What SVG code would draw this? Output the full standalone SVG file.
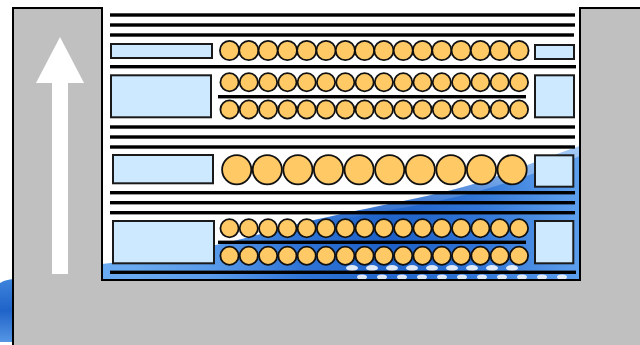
<svg xmlns="http://www.w3.org/2000/svg" width="640" height="345" viewBox="0 0 640 345">
  <style>
    .bar { fill: #000; }
    .pad { fill: #CCE9FF; stroke: #1a1a1a; stroke-width: 2; }
    .ball { fill: #FFC966; stroke: #111; stroke-width: 1.8; }
    .shell { fill: #C0C0C0; stroke: #000; stroke-width: 2; }
    .fleck { fill: #fff; opacity: 0.85; }
  </style>
  <defs>
    <radialGradient id="waveFill" cx="390" cy="240" r="260" gradientUnits="userSpaceOnUse">
      <stop offset="0" stop-color="#1d5fc6"/>
      <stop offset="0.35" stop-color="#2f74d6"/>
      <stop offset="0.7" stop-color="#5a9ceb"/>
      <stop offset="1" stop-color="#6aaaf0"/>
    </radialGradient>
    <linearGradient id="waveEdge" x1="0" y1="0" x2="0" y2="1">
      <stop offset="0" stop-color="#ffffff" stop-opacity="0.75"/>
      <stop offset="1" stop-color="#ffffff" stop-opacity="0"/>
    </linearGradient>
    <linearGradient id="cornerFill" x1="0" y1="0" x2="0" y2="1">
      <stop offset="0" stop-color="#3d84dc"/>
      <stop offset="0.5" stop-color="#1f63c8"/>
      <stop offset="1" stop-color="#5596e4"/>
    </linearGradient>
  </defs>

  <rect width="640" height="345" fill="#fff"/>

  <!-- blue backdrop wave -->
  <g id="backdrop">
    <path d="M102,264 C160,258 220,246 290,226 C360,208 430,198 480,182 C510,172 540,160 580,146 L580,282 L102,282 Z" fill="url(#waveFill)"/>
    <path d="M300,224 C360,208 430,198 480,182 C510,172 540,160 580,146 L580,156 C540,172 500,186 460,196 C400,210 350,216 300,228 Z" fill="url(#waveEdge)" opacity="0.6"/>
    <g class="fleck">
      <ellipse cx="352" cy="268" rx="6" ry="3"/>
      <ellipse cx="372" cy="268" rx="6" ry="3"/>
      <ellipse cx="392" cy="268" rx="6" ry="3"/>
      <ellipse cx="412" cy="268" rx="6" ry="3"/>
      <ellipse cx="432" cy="268" rx="6" ry="3"/>
      <ellipse cx="452" cy="268" rx="6" ry="3"/>
      <ellipse cx="472" cy="268" rx="6" ry="3"/>
      <ellipse cx="492" cy="268" rx="6" ry="3"/>
      <ellipse cx="512" cy="268" rx="6" ry="3"/>
      <ellipse cx="362" cy="277" rx="5" ry="2.5"/>
      <ellipse cx="382" cy="277" rx="5" ry="2.5"/>
      <ellipse cx="402" cy="277" rx="5" ry="2.5"/>
      <ellipse cx="422" cy="277" rx="5" ry="2.5"/>
      <ellipse cx="442" cy="277" rx="5" ry="2.5"/>
      <ellipse cx="462" cy="277" rx="5" ry="2.5"/>
      <ellipse cx="482" cy="277" rx="5" ry="2.5"/>
      <ellipse cx="502" cy="277" rx="5" ry="2.5"/>
      <ellipse cx="522" cy="277" rx="5" ry="2.5"/>
      <ellipse cx="542" cy="277" rx="5" ry="2.5"/>
      <ellipse cx="562" cy="277" rx="5" ry="2.5"/>
    </g>
    <path d="M0,283 C5,280 10,279 15,279 L15,342 L0,342 Z" fill="url(#cornerFill)"/>
  </g>

  <!-- grey housing around the stack -->
  <path id="housing" class="shell" d="M13,347 L13,8 L102,8 L102,280 L580,280 L580,8 L643,8 L643,347 Z"/>

  <!-- direction arrow -->
  <g id="arrow">
    <polygon points="60,37 84,83 36,83" fill="#fff"/>
    <rect x="52" y="82" width="16" height="192" fill="#fff"/>
  </g>

  <!-- separator bars -->
  <g id="bars">
    <rect class="bar" x="110" y="13.3" width="465" height="3.4"/>
    <rect class="bar" x="110" y="23.3" width="465" height="3.4"/>
    <rect class="bar" x="110" y="33.3" width="464" height="3.4"/>
    <rect class="bar" x="110" y="65" width="466" height="3.4"/>
    <rect class="bar" x="218" y="95" width="308" height="3.4"/>
    <rect class="bar" x="110" y="125.3" width="465" height="3.4"/>
    <rect class="bar" x="110" y="135.3" width="465" height="3.4"/>
    <rect class="bar" x="110" y="145.3" width="465" height="3.4"/>
    <rect class="bar" x="110" y="191" width="465" height="3.4"/>
    <rect class="bar" x="110" y="201" width="465" height="3.4"/>
    <rect class="bar" x="110" y="211" width="465" height="3.4"/>
    <rect class="bar" x="218" y="240.6" width="308" height="3.4"/>
    <rect class="bar" x="110" y="270.6" width="466" height="3.4"/>
  </g>

  <!-- tier 1: single row -->
  <g id="tier1">
    <rect class="pad" x="111" y="44" width="101" height="14"/>
    <rect class="pad" x="535" y="45" width="39" height="14"/>
    <g class="ball">
      <circle cx="229.5" cy="50.5" r="9.6"/><circle cx="248.8" cy="50.5" r="9.6"/>
      <circle cx="268.1" cy="50.5" r="9.6"/><circle cx="287.4" cy="50.5" r="9.6"/>
      <circle cx="306.7" cy="50.5" r="9.6"/><circle cx="326" cy="50.5" r="9.6"/>
      <circle cx="345.3" cy="50.5" r="9.6"/><circle cx="364.6" cy="50.5" r="9.6"/>
      <circle cx="383.9" cy="50.5" r="9.6"/><circle cx="403.2" cy="50.5" r="9.6"/>
      <circle cx="422.5" cy="50.5" r="9.6"/><circle cx="441.8" cy="50.5" r="9.6"/>
      <circle cx="461.1" cy="50.5" r="9.6"/><circle cx="480.4" cy="50.5" r="9.6"/>
      <circle cx="499.7" cy="50.5" r="9.6"/><circle cx="519" cy="50.5" r="9.6"/>
    </g>
  </g>

  <!-- tier 2: double row -->
  <g id="tier2">
    <rect class="pad" x="111" y="75.3" width="100" height="42"/>
    <rect class="pad" x="535" y="75.3" width="39" height="42"/>
    <g class="ball">
      <circle cx="229.5" cy="82.2" r="9.1"/><circle cx="248.8" cy="82.2" r="9.1"/>
      <circle cx="268.1" cy="82.2" r="9.1"/><circle cx="287.4" cy="82.2" r="9.1"/>
      <circle cx="306.7" cy="82.2" r="9.1"/><circle cx="326" cy="82.2" r="9.1"/>
      <circle cx="345.3" cy="82.2" r="9.1"/><circle cx="364.6" cy="82.2" r="9.1"/>
      <circle cx="383.9" cy="82.2" r="9.1"/><circle cx="403.2" cy="82.2" r="9.1"/>
      <circle cx="422.5" cy="82.2" r="9.1"/><circle cx="441.8" cy="82.2" r="9.1"/>
      <circle cx="461.1" cy="82.2" r="9.1"/><circle cx="480.4" cy="82.2" r="9.1"/>
      <circle cx="499.7" cy="82.2" r="9.1"/><circle cx="519" cy="82.2" r="9.1"/>
      <circle cx="229.5" cy="109.5" r="9.1"/><circle cx="248.8" cy="109.5" r="9.1"/>
      <circle cx="268.1" cy="109.5" r="9.1"/><circle cx="287.4" cy="109.5" r="9.1"/>
      <circle cx="306.7" cy="109.5" r="9.1"/><circle cx="326" cy="109.5" r="9.1"/>
      <circle cx="345.3" cy="109.5" r="9.1"/><circle cx="364.6" cy="109.5" r="9.1"/>
      <circle cx="383.9" cy="109.5" r="9.1"/><circle cx="403.2" cy="109.5" r="9.1"/>
      <circle cx="422.5" cy="109.5" r="9.1"/><circle cx="441.8" cy="109.5" r="9.1"/>
      <circle cx="461.1" cy="109.5" r="9.1"/><circle cx="480.4" cy="109.5" r="9.1"/>
      <circle cx="499.7" cy="109.5" r="9.1"/><circle cx="519" cy="109.5" r="9.1"/>
    </g>
  </g>

  <!-- tier 3: large single row -->
  <g id="tier3">
    <rect class="pad" x="113" y="155" width="100" height="28.3"/>
    <rect class="pad" x="535" y="155.3" width="38.3" height="31.4"/>
    <g class="ball">
      <circle cx="236.7" cy="169.7" r="14.6"/><circle cx="267.3" cy="169.7" r="14.6"/>
      <circle cx="297.9" cy="169.7" r="14.6"/><circle cx="328.5" cy="169.7" r="14.6"/>
      <circle cx="359.1" cy="169.7" r="14.6"/><circle cx="389.7" cy="169.7" r="14.6"/>
      <circle cx="420.3" cy="169.7" r="14.6"/><circle cx="450.9" cy="169.7" r="14.6"/>
      <circle cx="481.5" cy="169.7" r="14.6"/><circle cx="512.1" cy="169.7" r="14.6"/>
    </g>
  </g>

  <!-- tier 4: double row -->
  <g id="tier4">
    <rect class="pad" x="113" y="221" width="101" height="42.3"/>
    <rect class="pad" x="535" y="221" width="38.3" height="42.3"/>
    <g class="ball">
      <circle cx="229.5" cy="228.3" r="9.1"/><circle cx="248.8" cy="228.3" r="9.1"/>
      <circle cx="268.1" cy="228.3" r="9.1"/><circle cx="287.4" cy="228.3" r="9.1"/>
      <circle cx="306.7" cy="228.3" r="9.1"/><circle cx="326" cy="228.3" r="9.1"/>
      <circle cx="345.3" cy="228.3" r="9.1"/><circle cx="364.6" cy="228.3" r="9.1"/>
      <circle cx="383.9" cy="228.3" r="9.1"/><circle cx="403.2" cy="228.3" r="9.1"/>
      <circle cx="422.5" cy="228.3" r="9.1"/><circle cx="441.8" cy="228.3" r="9.1"/>
      <circle cx="461.1" cy="228.3" r="9.1"/><circle cx="480.4" cy="228.3" r="9.1"/>
      <circle cx="499.7" cy="228.3" r="9.1"/><circle cx="519" cy="228.3" r="9.1"/>
      <circle cx="229.5" cy="255.8" r="9.1"/><circle cx="248.8" cy="255.8" r="9.1"/>
      <circle cx="268.1" cy="255.8" r="9.1"/><circle cx="287.4" cy="255.8" r="9.1"/>
      <circle cx="306.7" cy="255.8" r="9.1"/><circle cx="326" cy="255.8" r="9.1"/>
      <circle cx="345.3" cy="255.8" r="9.1"/><circle cx="364.6" cy="255.8" r="9.1"/>
      <circle cx="383.9" cy="255.8" r="9.1"/><circle cx="403.2" cy="255.8" r="9.1"/>
      <circle cx="422.5" cy="255.8" r="9.1"/><circle cx="441.8" cy="255.8" r="9.1"/>
      <circle cx="461.1" cy="255.8" r="9.1"/><circle cx="480.4" cy="255.8" r="9.1"/>
      <circle cx="499.7" cy="255.8" r="9.1"/><circle cx="519" cy="255.8" r="9.1"/>
    </g>
  </g>
</svg>
